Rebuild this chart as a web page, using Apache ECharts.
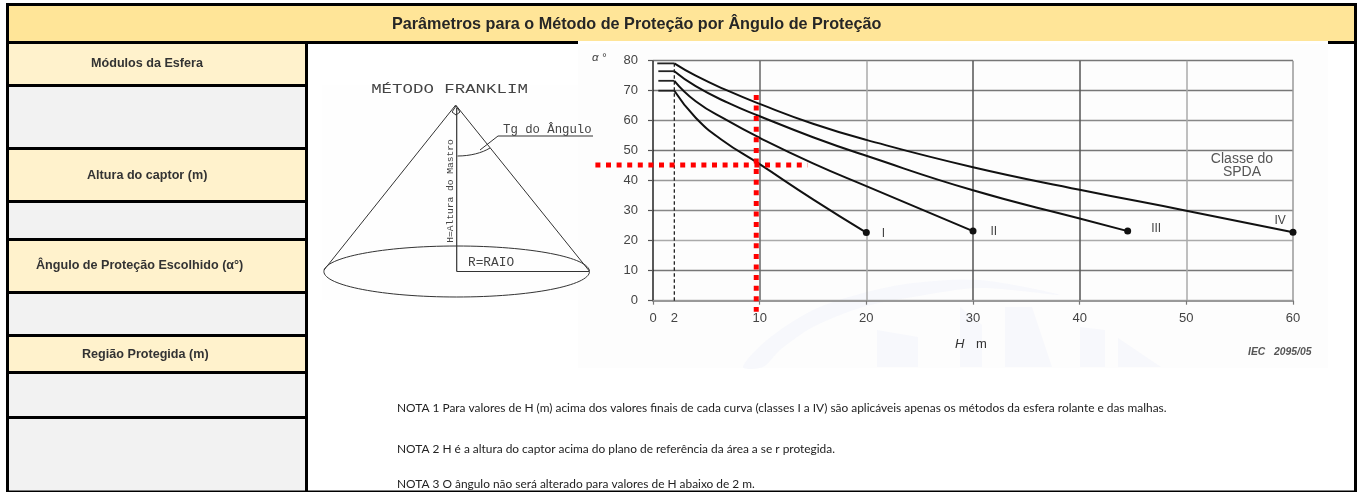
<!DOCTYPE html>
<html><head><meta charset="utf-8">
<style>html,body{margin:0;padding:0;background:#fff}#c{width:1359px;height:492px}</style>
<script src="https://cdn.jsdelivr.net/npm/echarts@6/dist/echarts.min.js"></script>
</head><body><div id="c"></div>
<script>
// ---- data ----
const classNames = ['I', 'II', 'III', 'IV'];
const classI   = [[2,70],[4,61],[6.5,53.5],[10,45.5],[15,33.8],[20,22.7]];
const classII  = [[2,73.3],[4,66.5],[7,60],[10,54.3],[15,45.8],[20,38.2],[30,23.2]];
const classIII = [[2,76.5],[4,71.5],[7,66],[10,61.5],[15,54.5],[20,48.3],[30,36.8],[40,27.4],[44.5,23.2]];
const classIV  = [[2,79.1],[4,75],[7,70],[10,65.6],[15,59],[20,53.6],[30,44.5],[40,37],[50,30],[60,22.8]];
const flatStart = [0.5, 0.5, 0.5, 0.4];
const dashedAt2 = [[2,0],[2,79]];
const readH = [[9.68,68.6],[9.68,-3.7]];
const readAlpha = [[-5.4,45.2],[14.5,45.2]];
const rowLabels = ['Módulos da Esfera','Altura do captor (m)','Ângulo de Proteção Escolhido (α°)','Região Protegida (m)'];
const titleText = 'Parâmetros para o Método de Proteção por Ângulo de Proteção';
const notes = [
 'NOTA 1 Para valores de H (m) acima dos valores finais de cada curva (classes I a IV) são aplicáveis apenas os métodos da esfera rolante e das malhas.',
 'NOTA 2 H é a altura do captor acima do plano de referência da área a se r protegida.',
 'NOTA 3 O ângulo não será alterado para valores de H abaixo de 2 m.'
];

// ---- page layout ----
const SANS = '"Liberation Sans", Arial, sans-serif';
const INK = '#333';
const rect = (x,y,w,h,fill,z) => ({type:'rect',z:z||0,silent:true,shape:{x,y,width:w,height:h},style:{fill}});
const txt = (x,y,text,font,fill,extra) => ({type:'text',z:5,silent:true,x,y,style:Object.assign({text,font,fill,verticalAlign:'middle',textAlign:'left'},extra||{})});
const ln = (x1,y1,x2,y2,w) => ({type:'line',z:1,silent:true,shape:{x1,y1,x2,y2},style:{stroke:INK,lineWidth:w||1,fill:null}});
const poly = (points,fill) => ({type:'polygon',z:0,silent:true,shape:{points},style:{fill}});

const CREAM='#FFF2CC', GREY='#F2F2F2', GOLD='#FFE598', WM='#F7F8FC';
const g = [];
// chart picture backdrop and faint watermark
g.push(rect(322,85,256,215,'#FEFEFE'));
g.push(rect(578,44,750,324,'#FDFDFD'));
g.push({type:'polygon',z:0,silent:true,shape:{smooth:0.3,points:[[743,367],[767,340],[813,310],[863,293],[913,283],[980,280],[1060,295],[980,288],[913,297],[863,307],[813,327],[780,350],[763,367]]},style:{fill:WM}});
g.push(poly([[877,330],[918,337],[918,367],[877,367]],WM));
g.push(poly([[960,307],[982,325],[982,367],[960,367]],WM));
g.push(poly([[1005,307],[1032,307],[1052,367],[1005,367]],WM));
g.push(poly([[1080,327],[1105,330],[1105,367],[1080,367]],WM));
g.push(poly([[1118,338],[1161,367],[1118,367]],WM));
// header and left column
g.push(rect(9,6,1345,35,GOLD));
[[44,84,CREAM],[87,147,GREY],[150,200,CREAM],[203,238,GREY],[241,291,CREAM],[294,334,GREY],[337,371,CREAM],[374,416,GREY],[419,490.5,GREY]]
  .forEach(r => g.push(rect(9,r[0],296,r[1]-r[0],r[2])));
// black rules
[[84],[147],[200],[238],[291],[334],[371],[416]].forEach(r => g.push(rect(6,r[0],302,3,'#000',1)));
g.push(rect(6,3,1351,3,'#000',1));
g.push(rect(6,3,3,488,'#000',1));
g.push(rect(1354,3,3,488,'#000',1));
g.push(rect(305,44,3,447,'#000',1));
g.push(rect(6,41,572,3,'#000',1));
g.push(rect(1328,41,26,3,'#000',1));
g.push(rect(6,490.6,1351,1.4,'#000',1));
// texts of the table
g.push(txt(392,24.5,titleText,'bold 16.2px '+SANS,'#262626'));
const labelPos = [[91,64],[87,175.5],[36,266],[82,354.5]];
rowLabels.forEach((t,i)=>g.push(txt(labelPos[i][0],labelPos[i][1],t,'bold 12.6px '+SANS,INK)));
const noteY=[408,449,484];
notes.forEach((t,i)=>g.push(txt(397,noteY[i],t,'11.9px Lato, sans-serif','#222')));
// cone sketch
g.push(ln(455.7,105,324,270));
g.push(ln(455.7,105,589.3,271));
g.push({type:'ellipse',z:1,silent:true,shape:{cx:456.7,cy:271.5,rx:132.8,ry:25.5},style:{stroke:INK,lineWidth:1,fill:null}});
g.push(ln(456.7,108,456.7,271.5,1.2));
g.push(ln(456.7,271.5,589,271.5,1.2));
g.push({type:'polygon',z:1,silent:true,shape:{points:[[456,106],[460,112],[456,115],[452,112]]},style:{stroke:INK,lineWidth:1,fill:null}});
g.push({type:'bezierCurve',z:1,silent:true,shape:{x1:457.5,y1:156,cpx1:470,cpy1:156,cpx2:482,cpy2:153,x2:490,y2:148},style:{stroke:INK,lineWidth:1,fill:null}});
g.push(ln(593,136,498,136));
g.push(ln(498,136,480,150));
const mono='"Liberation Mono", monospace';
g.push({type:'text',z:5,silent:true,x:449.5,y:90,scaleX:1.32,style:{text:'MÉTODO FRANKLIM',font:'13.2px '+mono,fill:'#444',textAlign:'center',verticalAlign:'middle'}});
g.push(txt(503,130,'Tg do Ângulo','12.3px '+mono,'#444'));
g.push(txt(468,263,'R=RAIO','12.8px '+mono,'#444'));
g.push({type:'text',z:5,silent:true,x:450,y:191,rotation:Math.PI/2,style:{text:'H=Altura do Mastro',font:'9.6px '+mono,fill:'#444',textAlign:'center',verticalAlign:'middle'}});
// axis captions of the chart picture
g.push(txt(592,58,'α °','italic 11.5px '+SANS,'#444'));
g.push(txt(955,344,'H','italic 13px '+SANS,'#333'));
g.push(txt(976,344,'m','13px '+SANS,'#333'));
g.push(txt(1242,159.5,'Classe do','14px '+SANS,'#555',{textAlign:'center'}));
g.push(txt(1242,172.5,'SPDA','14px '+SANS,'#555',{textAlign:'center'}));
g.push(txt(1248,352,'IEC   2095/05','italic bold 10.4px '+SANS,'#555'));

// ---- chart series ----
const curves = [classI,classII,classIII,classIV];
const labelOffset = [[10,1],[12,1],[18,-2],[-24,-12]];
const series = [];
curves.forEach((pts,i)=>{
  series.push({type:'line',name:classNames[i],data:pts.map((p,k)=>{
      if(k<pts.length-1) return {value:p,symbol:'none'};
      return {value:p,symbol:'circle',symbolSize:7,
        label:{show:true,position:'right',distance:2,offset:labelOffset[i],formatter:classNames[i],fontFamily:SANS,fontSize:12,color:'#444'}};
    }),smooth:0.5,showSymbol:true,itemStyle:{color:'#111'},lineStyle:{color:'#111',width:2},clip:false,z:4});
  series.push({type:'line',name:classNames[i]+' (H<2)',data:[[flatStart[i],pts[0][1]],pts[0]],symbol:'none',lineStyle:{color:'#222',width:1.8},clip:false,z:4});
});
series.push({type:'line',name:'H=2',data:dashedAt2.map((p,k)=>k===0?{value:p,symbol:'circle',symbolSize:0.1,label:{show:true,position:'bottom',distance:11,formatter:'2',fontFamily:SANS,fontSize:13,color:'#444'}}:{value:p,symbol:'none'}),showSymbol:true,itemStyle:{color:'#222'},lineStyle:{color:'#222',width:1.3,type:[3.5,2.5]},clip:false,z:3});
series.push({type:'line',name:'H lido',xAxisIndex:1,yAxisIndex:1,data:readH,symbol:'none',lineStyle:{color:'#FF0000',width:5,type:[5,5.6],cap:'butt'},clip:false,z:6});
series.push({type:'line',name:'α lido',xAxisIndex:1,yAxisIndex:1,data:readAlpha,symbol:'none',lineStyle:{color:'#FF0000',width:5,type:[5,5.6],cap:'butt'},clip:false,z:6});

const chart = echarts.init(document.getElementById('c'),null,{renderer:'canvas'});
chart.setOption({
  animation:false,
  backgroundColor:'#fff',
  graphic:{elements:g},
  grid:[
    {left:653,top:60.7,width:640,height:240,containLabel:false,show:false},
    // same scale as the chart, widened to the left so the red reading line can leave the plot
    {left:653-640/60*10,top:60.7,width:640/60*70,height:240,containLabel:false,show:false}
  ],
  xAxis:[{type:'value',min:0,max:60,interval:10,
    axisLine:{show:true,onZero:false,lineStyle:{color:'#999',width:2}},
    axisTick:{show:true,length:4,lineStyle:{color:'#777',width:1.2}},
    axisLabel:{margin:11,fontFamily:SANS,fontSize:13,color:'#444'},
    splitLine:{show:true,lineStyle:{color:['#222','#666','#aaa','#555','#555','#aaa','#999'],width:1.5}}},
    {type:'value',gridIndex:1,min:-10,max:60,show:false,splitLine:{show:false}}],
  yAxis:[{type:'value',min:0,max:80,interval:10,
    axisLine:{show:false},
    axisTick:{show:true,length:5,lineStyle:{color:'#555',width:1.2}},
    axisLabel:{margin:15,fontFamily:SANS,fontSize:13,color:'#444'},
    splitLine:{show:true,lineStyle:{color:['#aaa','#777','#aaa','#888','#999','#777','#888','#777','#777'],width:1.4}}},
    {type:'value',gridIndex:1,min:0,max:80,show:false,splitLine:{show:false}}],
  series
});
</script></body></html>
